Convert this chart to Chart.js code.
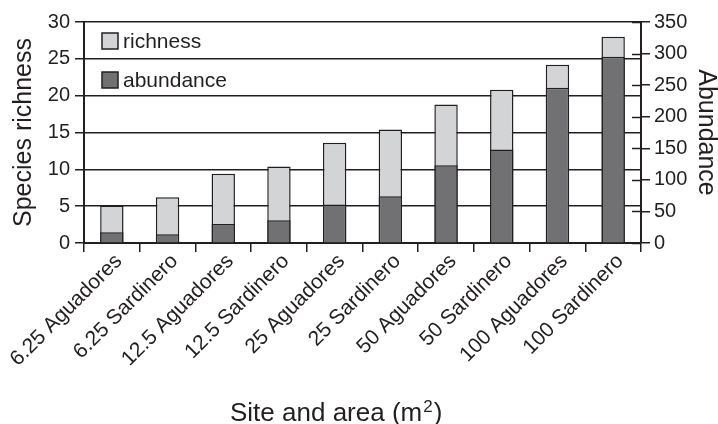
<!DOCTYPE html>
<html>
<head>
<meta charset="utf-8">
<script src="https://cdn.jsdelivr.net/npm/chart.js@4.4.1/dist/chart.umd.min.js"></script>
<style>
  html, body { margin: 0; padding: 0; background: #ffffff; }
  #wrap { width: 718px; height: 424px; }
</style>
</head>
<body>
<div id="wrap"><canvas id="chart" width="718" height="424"></canvas></div>
<script>
// Sampling sites (plot area in m² and locality)
const sites = [
  '6.25 Aguadores', '6.25 Sardinero', '12.5 Aguadores', '12.5 Sardinero',
  '25 Aguadores', '25 Sardinero', '50 Aguadores', '50 Sardinero',
  '100 Aguadores', '100 Sardinero'
];
// Number of species per site (left axis)
const richness = [5.1, 6.2, 9.4, 10.4, 13.6, 15.4, 18.8, 20.8, 24.2, 28.0];
// Number of individuals per site (right axis)
const abundance = [17, 14, 30, 36, 61, 74, 123, 148, 246, 295];
// Axis ranges
const richnessMax = 30, richnessStep = 5;
const abundanceMax = 350, abundanceStep = 50;
// x-axis caption, with the unit's exponent set as a superscript
const xCaption = ['Site and area (m', '2', ')'];

const ink = '#231f20';
const lightFill = '#d3d4d5';
const darkFill = '#717174';
const FONT = '"Liberation Sans", Arial, Helvetica, sans-serif';

// Legend drawn inside the plot, top-left corner
const innerLegend = {
  id: 'innerLegend',
  afterDatasetsDraw(chart) {
    const { ctx, chartArea } = chart;
    const items = chart.data.datasets.map(d => ({ label: d.label, fill: d.backgroundColor }));
    const x0 = chartArea.left + 18;
    let y0 = chartArea.top + 11;
    const box = 16, rowGap = 39;
    ctx.save();
    ctx.font = '21px ' + FONT;
    ctx.textBaseline = 'middle';
    ctx.textAlign = 'left';
    items.forEach(it => {
      ctx.fillStyle = it.fill;
      ctx.fillRect(x0, y0, box, box);
      ctx.lineWidth = 1.5;
      ctx.strokeStyle = ink;
      ctx.strokeRect(x0, y0, box, box);
      ctx.fillStyle = ink;
      ctx.fillText(it.label, x0 + box + 5, y0 + box / 2 + 1);
      y0 += rowGap;
    });
    ctx.restore();
  }
};

// Right-axis ticks cross the axis line: add the inner half
const crossTicks = {
  id: 'crossTicks',
  afterDraw(chart) {
    const s = chart.scales.y1;
    const { ctx, chartArea } = chart;
    ctx.save();
    ctx.strokeStyle = ink;
    ctx.lineWidth = 1.5;
    s.ticks.forEach(t => {
      const y = Math.round(s.getPixelForValue(t.value)) + 0.5;
      ctx.beginPath();
      ctx.moveTo(chartArea.right - 9, y);
      ctx.lineTo(chartArea.right, y);
      ctx.stroke();
    });
    ctx.restore();
  }
};

// Caption under the x axis, with a raised exponent
const xAxisCaption = {
  id: 'xAxisCaption',
  afterDraw(chart) {
    const { ctx, chartArea } = chart;
    const x = chartArea.left + 146;
    const base = chart.scales.x.bottom - 3;
    ctx.save();
    ctx.fillStyle = ink;
    ctx.textBaseline = 'alphabetic';
    ctx.textAlign = 'left';
    ctx.font = '26px ' + FONT;
    const w0 = ctx.measureText(xCaption[0]).width;
    ctx.fillText(xCaption[0], x, base);
    ctx.font = '17px ' + FONT;
    const w1 = ctx.measureText(xCaption[1]).width;
    ctx.fillText(xCaption[1], x + w0 + 1, base - 9);
    ctx.font = '26px ' + FONT;
    ctx.fillText(xCaption[2], x + w0 + w1 + 2, base);
    ctx.restore();
  }
};

new Chart(document.getElementById('chart'), {
  type: 'bar',
  data: {
    labels: sites,
    datasets: [
      {
        label: 'richness',
        data: richness,
        yAxisID: 'y',
        backgroundColor: lightFill,
        borderColor: ink,
        borderWidth: 1.5,
        grouped: false,
        order: 2,
        categoryPercentage: 1,
        barPercentage: 0.42
      },
      {
        label: 'abundance',
        data: abundance,
        yAxisID: 'y1',
        backgroundColor: darkFill,
        borderColor: ink,
        borderWidth: 1.5,
        grouped: false,
        order: 1,
        categoryPercentage: 1,
        barPercentage: 0.42
      }
    ]
  },
  options: {
    responsive: false,
    animation: false,
    layout: { padding: { top: 22, left: 0, right: 0, bottom: 0 } },
    plugins: {
      legend: { display: false },
      tooltip: { enabled: false }
    },
    scales: {
      x: {
        type: 'category',
        offset: true,
        grid: { display: true, drawOnChartArea: false, offset: true, tickLength: 9, color: ink, lineWidth: 1.5 },
        border: { display: true, color: ink, width: 2 },
        ticks: {
          autoSkip: false, minRotation: 45, maxRotation: 45, padding: -3, labelOffset: 7,
          color: ink, font: { family: FONT, size: 21 }
        },
        title: { display: false },
        afterFit(scale) { scale.height = 181; scale.paddingLeft = 0; scale.paddingRight = 0; }
      },
      y: {
        position: 'left',
        min: 0, max: richnessMax,
        grid: { color: ink, lineWidth: 1.5, tickLength: 9 },
        border: { display: true, color: ink, width: 2 },
        ticks: { stepSize: richnessStep, padding: 5, color: ink, font: { family: FONT, size: 20 } },
        title: {
          display: true, text: 'Species richness', color: ink,
          font: { family: FONT, size: 25, lineHeight: 1 }, padding: { top: 12, bottom: 0 }
        },
        afterFit(scale) { scale.width = 84; }
      },
      y1: {
        position: 'right',
        min: 0, max: abundanceMax,
        grid: { drawOnChartArea: false, color: ink, lineWidth: 1.5, tickLength: 9 },
        border: { display: true, color: ink, width: 2 },
        ticks: { stepSize: abundanceStep, padding: 4, color: ink, font: { family: FONT, size: 20 } },
        title: {
          display: true, text: 'Abundance', color: ink,
          font: { family: FONT, size: 25, lineHeight: 1 }, padding: { top: 0, bottom: 0 }
        },
        afterFit(scale) { scale.width = 77; }
      }
    }
  },
  plugins: [innerLegend, crossTicks, xAxisCaption]
});
</script>
</body>
</html>
